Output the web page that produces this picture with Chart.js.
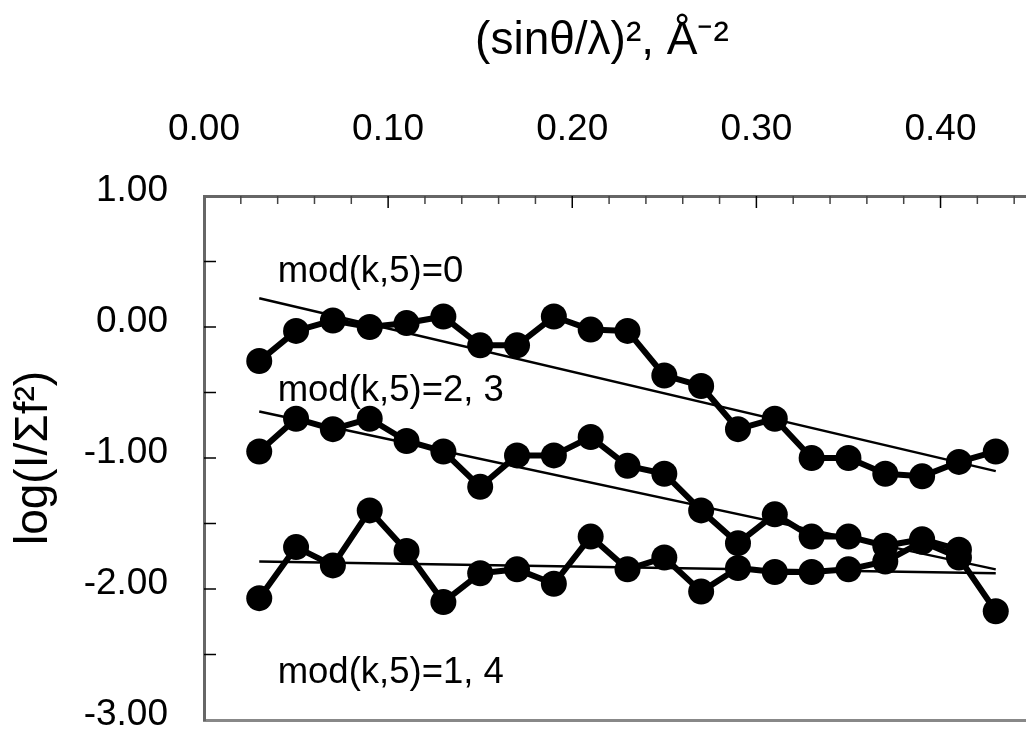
<!DOCTYPE html>
<html>
<head>
<meta charset="utf-8">
<script src="https://cdn.jsdelivr.net/npm/chart.js@4/dist/chart.umd.min.js"></script>
<style>
html,body{margin:0;padding:0;background:#fff;overflow:hidden}
#wrap{width:1026px;height:733px;overflow:hidden;position:relative;background:#fff}
canvas{display:block}
</style>
</head>
<body>
<div id="wrap"><canvas id="c" width="1064" height="733"></canvas></div>
<script>
// ---- data ----
const xValues = [0.03,0.05,0.07,0.09,0.11,0.13,0.15,0.17,0.19,0.21,0.23,0.25,0.27,0.29,0.31,0.33,0.35,0.37,0.39,0.41,0.43];
const mod0  = [-0.26,-0.03,0.05,0.00,0.03,0.08,-0.14,-0.14,0.08,-0.02,-0.03,-0.37,-0.45,-0.78,-0.70,-1.00,-1.00,-1.12,-1.14,-1.03,-0.95];
const mod23 = [-0.95,-0.70,-0.78,-0.70,-0.87,-0.95,-1.22,-0.98,-0.98,-0.84,-1.06,-1.12,-1.40,-1.65,-1.43,-1.60,-1.60,-1.67,-1.62,-1.70];
const mod14 = [-2.07,-1.68,-1.82,-1.40,-1.71,-2.10,-1.88,-1.85,-1.96,-1.60,-1.85,-1.76,-2.02,-1.84,-1.87,-1.87,-1.85,-1.79,-1.64,-1.76,-2.17];
const trendX  = [0.03, 0.43];
const trend0  = [0.22, -1.10];
const trend23 = [-0.645, -1.85];
const trend14 = [-1.79, -1.88];
const seriesLabels = ['mod(k,5)=0', 'mod(k,5)=2, 3', 'mod(k,5)=1, 4'];
const xTickLabels = ['0.00','0.10','0.20','0.30','0.40'];
const yTickLabels = ['-3.00','-2.00','-1.00','0.00','1.00'];
const xTitle = '(sinθ/λ)², Å⁻²';
const yTitle = 'log(I/Σf²)';

// ---- presentation ----
const FONT = '"Liberation Sans", Arial, Helvetica, sans-serif';
const noteAnchors = [{x:0.04, y:0.42}, {x:0.04, y:-0.49}, {x:0.04, y:-2.64}];

const pts = (xs, ys) => ys.map((v, i) => ({x: xs[i], y: v}));
const labelFor = (list, v) => {
  const hit = list.find(s => Math.abs(parseFloat(s) - v) < 1e-6);
  return hit === undefined ? '' : hit;
};
const noPad = s => { s.paddingLeft = 0; s.paddingRight = 0; s.paddingTop = 0; s.paddingBottom = 0; };

const insideTicks = {
  id: 'insideTicks',
  beforeDatasetsDraw(chart) {
    const {ctx, chartArea: a, scales: {x, y}} = chart;
    ctx.save();
    ctx.lineWidth = 1.5;
    x.ticks.forEach(t => {
      const px = x.getPixelForValue(t.value);
      if (px <= a.left + 2 || px > a.right - 1) return;
      const major = labelFor(xTickLabels, t.value) !== '';
      ctx.strokeStyle = major ? '#000' : '#444';
      ctx.beginPath();
      ctx.moveTo(px, a.top);
      ctx.lineTo(px, a.top + (major ? 12 : 8));
      ctx.stroke();
    });
    y.ticks.forEach(t => {
      const py = y.getPixelForValue(t.value);
      if (py <= a.top + 2 || py >= a.bottom - 2) return;
      ctx.strokeStyle = '#000';
      ctx.beginPath();
      ctx.moveTo(a.left, py);
      ctx.lineTo(a.left + 12, py);
      ctx.stroke();
    });
    ctx.restore();
  }
};

const seriesNotes = {
  id: 'seriesNotes',
  afterDatasetsDraw(chart) {
    const {ctx, scales: {x, y}} = chart;
    ctx.save();
    ctx.font = '36.5px ' + FONT;
    ctx.fillStyle = '#000';
    ctx.textAlign = 'left';
    ctx.textBaseline = 'middle';
    noteAnchors.forEach((n, i) => {
      ctx.fillText(seriesLabels[i], x.getPixelForValue(n.x), y.getPixelForValue(n.y));
    });
    ctx.restore();
  }
};

const dataStyle = {
  borderColor: '#000', backgroundColor: '#000', borderWidth: 6,
  pointRadius: 13, pointHoverRadius: 13, pointBackgroundColor: '#000',
  pointBorderWidth: 0, showLine: true, tension: 0, borderJoinStyle: 'round', borderCapStyle: 'round'
};
const trendStyle = {
  borderColor: '#000', borderWidth: 2.5, pointRadius: 0, pointHoverRadius: 0,
  showLine: true, tension: 0
};

new Chart(document.getElementById('c'), {
  type: 'scatter',
  data: {
    datasets: [
      Object.assign({label: seriesLabels[0], data: pts(xValues, mod0)}, dataStyle),
      Object.assign({label: seriesLabels[1], data: pts(xValues, mod23)}, dataStyle),
      Object.assign({label: seriesLabels[2], data: pts(xValues, mod14)}, dataStyle),
      Object.assign({label: 'trend 0', data: pts(trendX, trend0)}, trendStyle),
      Object.assign({label: 'trend 2,3', data: pts(trendX, trend23)}, trendStyle),
      Object.assign({label: 'trend 1,4', data: pts(trendX, trend14)}, trendStyle)
    ]
  },
  options: {
    responsive: false,
    animation: false,
    devicePixelRatio: 1,
    layout: {padding: {left: 0, top: 0, right: 9, bottom: 0}},
    plugins: {legend: {display: false}, tooltip: {enabled: false}, title: {display: false}},
    scales: {
      x: {
        type: 'linear', position: 'top', min: 0, max: 0.46,
        afterFit(s) { s.height = 196; noPad(s); },
        grid: {display: false, drawTicks: false},
        border: {display: true, color: '#666', width: 3},
        ticks: {
          stepSize: 0.02, autoSkip: false, maxRotation: 0, minRotation: 0, padding: 44,
          color: '#000', font: {family: FONT, size: 37},
          callback: v => labelFor(xTickLabels, v)
        },
        title: {display: true, text: xTitle + '    ', color: '#000',
                font: {family: FONT, size: 46}, padding: {top: 14, bottom: 0}}
      },
      xb: {
        type: 'linear', position: 'bottom', min: 0, max: 0.46,
        afterFit(s) { s.height = 10; noPad(s); },
        grid: {display: false, drawTicks: false},
        border: {display: true, color: '#888', width: 3},
        ticks: {display: false}
      },
      y: {
        type: 'linear', position: 'left', min: -3, max: 1,
        afterFit(s) { s.width = 204; noPad(s); },
        grid: {display: false, drawTicks: false},
        border: {display: true, color: '#666', width: 3},
        ticks: {
          stepSize: 0.5, autoSkip: false, padding: 36, labelOffset: -5,
          color: '#000', font: {family: FONT, size: 37},
          callback: v => labelFor(yTickLabels, v)
        },
        title: {display: true, text: yTitle, color: '#000',
                font: {family: FONT, size: 46}, padding: {top: 7, bottom: 0}}
      }
    }
  },
  plugins: [insideTicks, seriesNotes]
});
</script>
</body>
</html>
